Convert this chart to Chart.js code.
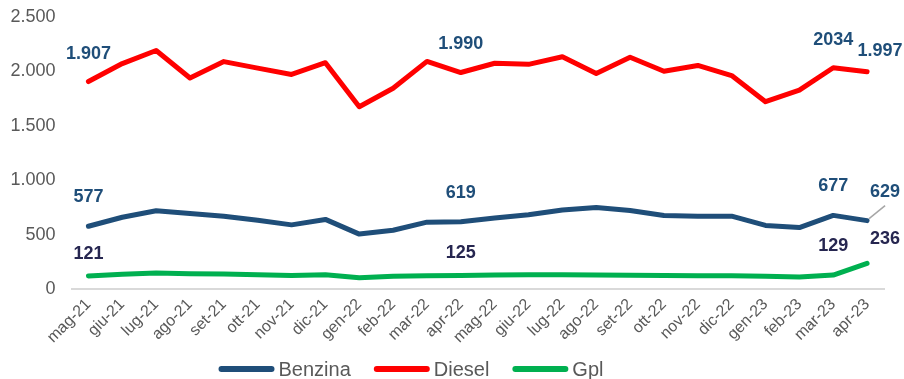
<!DOCTYPE html>
<html lang="it">
<head>
    <meta charset="UTF-8">
    <title>Benzina, Diesel, Gpl</title>
    <script src="https://cdn.jsdelivr.net/npm/chart.js"></script>
    <style>
        body {
            margin: 0;
            padding: 0;
            background: #fff;
        }

        .wrap {
            position: relative;
            width: 904px;
            height: 379px;
        }
    </style>
</head>
<body>
    <div class="wrap">
        <canvas id="fuelChart"></canvas>
    </div>

    <script>
        const months = ['mag-21', 'giu-21', 'lug-21', 'ago-21', 'set-21', 'ott-21', 'nov-21', 'dic-21',
            'gen-22', 'feb-22', 'mar-22', 'apr-22', 'mag-22', 'giu-22', 'lug-22', 'ago-22',
            'set-22', 'ott-22', 'nov-22', 'dic-22', 'gen-23', 'feb-23', 'mar-23', 'apr-23'];

        const benzina = [577, 660, 720, 695, 670, 632, 590, 640, 505, 540, 615, 619,
            652, 682, 727, 750, 722, 676, 670, 670, 585, 565, 677, 629];

        const diesel = [1907, 2072, 2192, 1940, 2090, 2030, 1972, 2080, 1675, 1845, 2092, 1990,
            2075, 2065, 2135, 1980, 2130, 2002, 2055, 1962, 1722, 1828, 2034, 1997];

        const gpl = [121, 135, 148, 140, 138, 132, 125, 132, 105, 118, 122, 125,
            130, 132, 131, 130, 128, 125, 122, 122, 118, 110, 129, 236];

        const yTicks = [0, 500, 1000, 1500, 2000, 2500];

        const fontFamily = '"Liberation Sans", Arial, sans-serif';

        // thousands with a dot, as in the Italian style
        function fmt(v) {
            return String(v).replace(/\B(?=(\d{3})+(?!\d))/g, '.');
        }

        // value labels: dataset, point index, offset from the point
        const valueLabels = [
            { ds: 1, i: 0, dx: 0, dy: -28 },
            { ds: 1, i: 11, dx: 0, dy: -28 },
            { ds: 1, i: 22, dx: 0, dy: -28, plain: true },
            { ds: 1, i: 23, dx: 13, dy: -21 },
            { ds: 0, i: 0, dx: 0, dy: -29 },
            { ds: 0, i: 11, dx: 0, dy: -29 },
            { ds: 0, i: 22, dx: 0, dy: -29 },
            { ds: 0, i: 23, dx: 18, dy: -29, leader: true },
            { ds: 2, i: 0, dx: 0, dy: -22 },
            { ds: 2, i: 11, dx: 0, dy: -22 },
            { ds: 2, i: 22, dx: 0, dy: -29 },
            { ds: 2, i: 23, dx: 18, dy: -24 }
        ];
        const labelColors = ['#1f4e79', '#1f4e79', '#262650'];

        const valueLabelPlugin = {
            id: 'valueLabels',
            afterDatasetsDraw(chart) {
                const ctx = chart.ctx;
                ctx.save();
                ctx.font = 'bold 18px ' + fontFamily;
                ctx.textAlign = 'center';
                ctx.textBaseline = 'middle';
                valueLabels.forEach(l => {
                    const pt = chart.getDatasetMeta(l.ds).data[l.i];
                    const v = chart.data.datasets[l.ds].data[l.i];
                    const x = pt.x + l.dx;
                    const y = pt.y + l.dy;
                    if (l.leader) {
                        ctx.strokeStyle = '#a6a6a6';
                        ctx.lineWidth = 1.5;
                        ctx.beginPath();
                        ctx.moveTo(pt.x + 2, pt.y - 2);
                        ctx.lineTo(x, y + 14);
                        ctx.stroke();
                    }
                    ctx.fillStyle = labelColors[l.ds];
                    ctx.fillText(l.plain ? String(v) : fmt(v), x, y);
                });
                ctx.restore();
            }
        };

        // legend with long rounded line keys, drawn under the axis labels
        const lineLegendPlugin = {
            id: 'lineLegend',
            afterDraw(chart) {
                const ctx = chart.ctx;
                const keyW = 56, keyGap = 4, itemGap = 23;
                const y = 369;
                ctx.save();
                ctx.font = '20px ' + fontFamily;
                ctx.textBaseline = 'middle';
                const items = chart.data.datasets.map(ds => ({
                    text: ds.label,
                    color: ds.borderColor,
                    w: keyW + keyGap + ctx.measureText(ds.label).width
                }));
                const total = items.reduce((s, it) => s + it.w, 0) + itemGap * (items.length - 1);
                let x = 411 - total / 2;
                items.forEach(it => {
                    ctx.strokeStyle = it.color;
                    ctx.lineWidth = 6;
                    ctx.lineCap = 'round';
                    ctx.beginPath();
                    ctx.moveTo(x + 3, y);
                    ctx.lineTo(x + keyW - 3, y);
                    ctx.stroke();
                    ctx.fillStyle = '#595959';
                    ctx.fillText(it.text, x + keyW + keyGap, y + 1);
                    x += it.w + itemGap;
                });
                ctx.restore();
            }
        };

        new Chart(document.getElementById('fuelChart'), {
            type: 'line',
            data: {
                labels: months,
                datasets: [
                    { label: 'Benzina', data: benzina, borderColor: '#1f4e79', backgroundColor: '#1f4e79' },
                    { label: 'Diesel', data: diesel, borderColor: '#ff0000', backgroundColor: '#ff0000' },
                    { label: 'Gpl', data: gpl, borderColor: '#00b050', backgroundColor: '#00b050' }
                ]
            },
            options: {
                responsive: true,
                maintainAspectRatio: false,
                animation: false,
                layout: { padding: { top: 17, left: 8, right: 20, bottom: 26 } },
                elements: {
                    line: { borderWidth: 5, tension: 0, borderCapStyle: 'round', borderJoinStyle: 'round' },
                    point: { radius: 0 }
                },
                plugins: {
                    legend: { display: false },
                    tooltip: { enabled: false }
                },
                scales: {
                    x: {
                        offset: true,
                        grid: { display: false, drawTicks: false },
                        border: { color: '#d9d9d9', width: 2 },
                        afterFit(axis) {
                            // don't let the rotated first label push the plot right
                            axis.paddingLeft = 0;
                            axis.paddingRight = 0;
                        },
                        ticks: {
                            color: '#595959',
                            minRotation: 45,
                            maxRotation: 45,
                            padding: 6,
                            font: { family: fontFamily, size: 16 }
                        }
                    },
                    y: {
                        min: 0,
                        max: 2500,
                        afterBuildTicks(axis) {
                            axis.ticks = yTicks.map(v => ({ value: v }));
                        },
                        afterFit(axis) {
                            axis.width = 63.5;
                            axis.paddingTop = 0;
                            axis.paddingBottom = 0;
                        },
                        grid: { display: false, drawTicks: false },
                        border: { display: false },
                        ticks: {
                            color: '#595959',
                            padding: 16,
                            font: { family: fontFamily, size: 18 },
                            callback: v => fmt(v)
                        }
                    }
                }
            },
            plugins: [valueLabelPlugin, lineLegendPlugin]
        });
    </script>
</body>
</html>
